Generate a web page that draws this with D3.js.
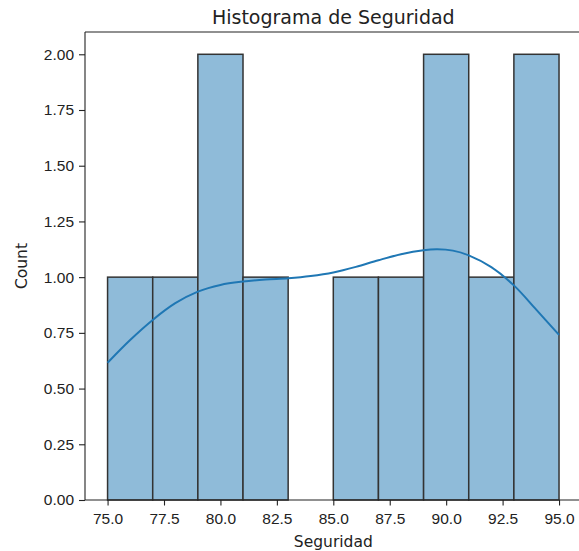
<!DOCTYPE html>
<html>
<head>
<meta charset="utf-8">
<script src="https://cdn.jsdelivr.net/npm/d3@7"></script>
<style>
  body { margin: 0; background: #fff; }
  svg { font-family: "DejaVu Sans", sans-serif; }
  .axis text { font-size: 15.5px; fill: #222; }
  .axis path, .axis line { stroke: #222; stroke-width: 1.1; }
</style>
</head>
<body>
<script>
// bins of Seguridad (width 2) and their counts
var binStart = [75, 77, 79, 81, 83, 85, 87, 89, 91, 93];
var binCount = [1, 1, 2, 1, 0, 1, 1, 2, 1, 2];
var binWidth = 2;

// kde curve
var kdeX = [75.0, 76.0, 77.0, 78.0, 79.0, 80.0, 81.0, 82.0, 83.0, 84.0, 85.0, 86.0, 87.0, 88.0, 89.0, 89.6, 90.3, 91.0, 92.0, 93.0, 94.0, 95.0];
var kdeY = [0.616, 0.718, 0.808, 0.883, 0.935, 0.965, 0.980, 0.989, 0.995, 1.005, 1.021, 1.046, 1.076, 1.103, 1.121, 1.125, 1.119, 1.098, 1.045, 0.963, 0.853, 0.741];

var xTicks = [75, 77.5, 80, 82.5, 85, 87.5, 90, 92.5, 95];
var yTicks = [0, 0.25, 0.5, 0.75, 1, 1.25, 1.5, 1.75, 2];

var width = 579, height = 551;
var margin = {left: 85, top: 32, bottom: 51};
var plotW = 496.6;   // right spine falls outside the window
var plotH = height - margin.top - margin.bottom;

var x = d3.scaleLinear().domain([74, 96]).range([0, plotW]);
var y = d3.scaleLinear().domain([0, 2.1]).range([plotH, 0]);

var svg = d3.select("body").append("svg").attr("width", width).attr("height", height);
var g = svg.append("g").attr("transform", "translate(" + margin.left + "," + margin.top + ")");

// bars
g.selectAll("rect.bar")
  .data(binStart.map(function(d, i){ return {x0: d, n: binCount[i]}; }).filter(function(d){ return d.n > 0; }))
  .enter().append("rect")
  .attr("class", "bar")
  .attr("x", function(d){ return x(d.x0); })
  .attr("width", function(d){ return x(d.x0 + binWidth) - x(d.x0); })
  .attr("y", function(d){ return y(d.n); })
  .attr("height", function(d){ return y(0) - y(d.n); })
  .attr("fill", "#8fbbd9")
  .attr("stroke", "#333333")
  .attr("stroke-width", 1.5);

// kde line
var line = d3.line()
  .x(function(d, i){ return x(kdeX[i]); })
  .y(function(d){ return y(d); })
  .curve(d3.curveCatmullRom);
g.append("path")
  .attr("d", line(kdeY))
  .attr("fill", "none")
  .attr("stroke", "#1f77b4")
  .attr("stroke-width", 2);

// axes
var xAxis = d3.axisBottom(x).tickValues(xTicks).tickSize(5.5).tickPadding(7)
  .tickFormat(d3.format(".1f"));
var yAxis = d3.axisLeft(y).tickValues(yTicks).tickSize(6).tickPadding(5)
  .tickFormat(d3.format(".2f"));

g.append("g").attr("class", "axis x")
  .attr("transform", "translate(0," + plotH + ")")
  .call(xAxis)
  .call(function(s){ s.select(".domain").attr("d", "M0,0H" + plotW); });
g.append("g").attr("class", "axis y")
  .call(yAxis)
  .call(function(s){ s.select(".domain").attr("d", "M0," + plotH + "V0"); });

// top spine
g.append("line").attr("x1", 0).attr("x2", plotW).attr("y1", 0).attr("y2", 0)
  .attr("stroke", "#222").attr("stroke-width", 1.1);

// labels
svg.append("text")
  .attr("x", margin.left + plotW / 2).attr("y", 24)
  .attr("text-anchor", "middle").attr("font-size", "19px").attr("fill", "#222")
  .text("Histograma de Seguridad");
svg.append("text")
  .attr("x", margin.left + plotW / 2).attr("y", 547)
  .attr("text-anchor", "middle").attr("font-size", "15.5px").attr("fill", "#222")
  .text("Seguridad");
svg.append("text")
  .attr("transform", "translate(27," + (margin.top + plotH / 2) + ") rotate(-90)")
  .attr("text-anchor", "middle").attr("font-size", "15.5px").attr("fill", "#222")
  .text("Count");
</script>
</body>
</html>
